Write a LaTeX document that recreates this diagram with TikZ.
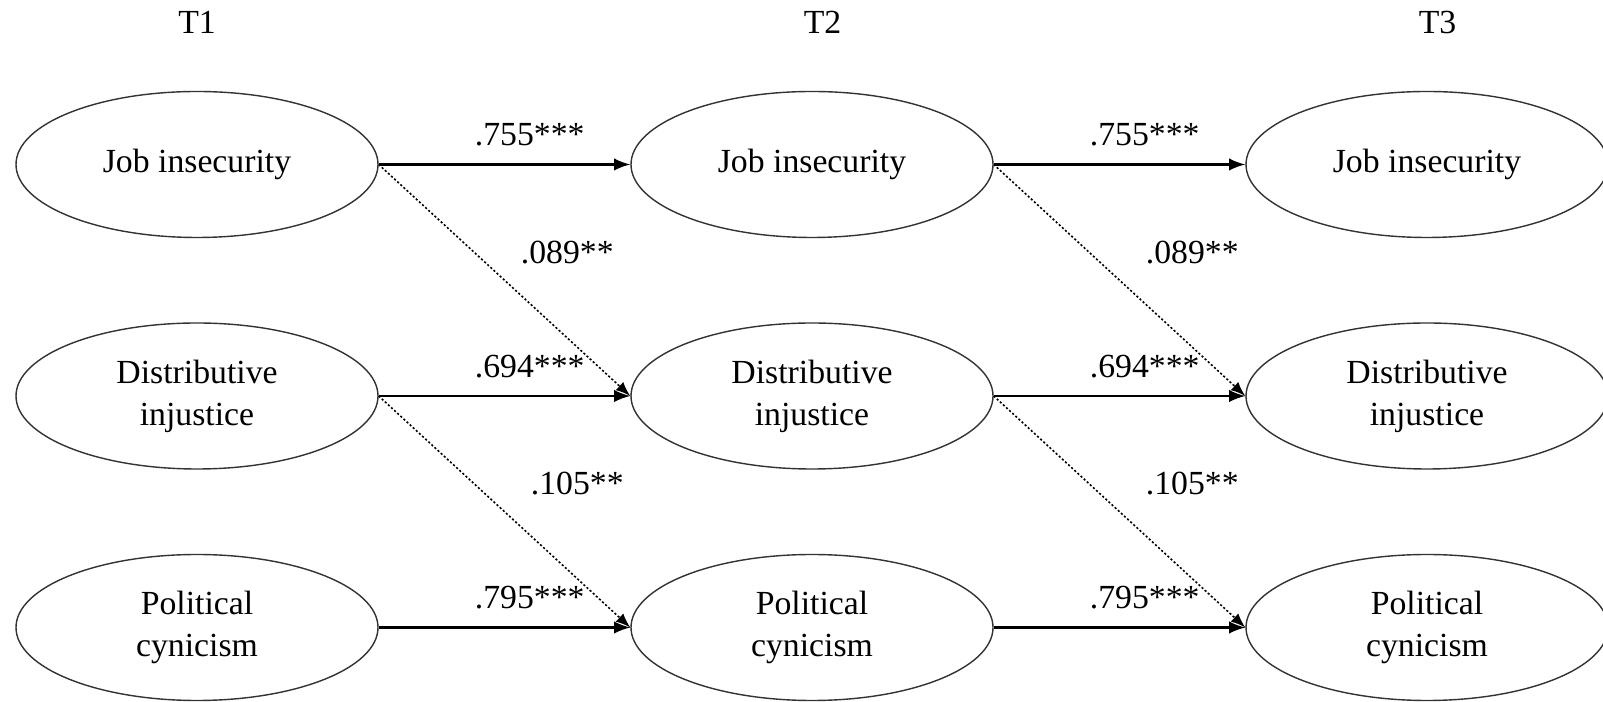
\documentclass[tikz,border=0pt]{standalone}
\usepackage{fontspec}
\setmainfont{Liberation Serif}
\usetikzlibrary{shapes.geometric, arrows, positioning}
\tikzstyle{latent} = [ellipse, draw=black!80, line width=0.4pt, minimum width=3.62cm, minimum height=1.46cm, align=center, inner sep=1pt]
\tikzstyle{stab} = [semithick,->,>=latex]
\tikzstyle{lagged} = [line width=0.45pt, dash pattern=on 0.6pt off 0.6pt,->,>=latex]
\tikzstyle{coef} = [above=1.5pt, pos=0.6]
\tikzstyle{xcoef} = [pos=0.38, xshift=1.03cm]

\begin{document}
\begin{tikzpicture}[node distance=2.315cm, font=\fontsize{9.6}{11.9}\selectfont]
        \useasboundingbox (0,0) rectangle (16.03,7.02);
        % T1
        \node (ji1) [latent] at (1.97,5.375) {Job insecurity};
        \node (di1) [latent, below of=ji1] {Distributive\\injustice};
        \node (pc1) [latent, below of=di1] {Political\\cynicism};
        % T2
        \node (ji2) [latent, right of=ji1, node distance=6.15cm] {Job insecurity};
        \node (di2) [latent, below of=ji2] {Distributive\\injustice};
        \node (pc2) [latent, below of=di2] {Political\\cynicism};
        % T3
        \node (ji3) [latent, right of=ji2, node distance=6.15cm] {Job insecurity};
        \node (di3) [latent, below of=ji3] {Distributive\\injustice};
        \node (pc3) [latent, below of=di3] {Political\\cynicism};
        % waves
        \node (t1) [above of=ji1, node distance=1.42cm] {T1};
        \node (t2) [above of=ji2, node distance=1.42cm, xshift=3pt] {T2};
        \node (t3) [above of=ji3, node distance=1.42cm, xshift=3pt] {T3};
        % stability paths
        \draw [stab] (ji1) -- node[coef] {.755***} (ji2);
        \draw [stab] (di1) -- node[coef] {.694***} (di2);
        \draw [stab] (pc1) -- node[coef] {.795***} (pc2);
        \draw [stab] (ji2) -- node[coef] {.755***} (ji3);
        \draw [stab] (di2) -- node[coef] {.694***} (di3);
        \draw [stab] (pc2) -- node[coef] {.795***} (pc3);
        % cross-lagged paths
        \draw [lagged] (ji1.east) -- node[xcoef, xshift=-0.1cm] {.089**} (di2.west);
        \draw [lagged] (di1.east) -- node[xcoef] {.105**} (pc2.west);
        \draw [lagged] (ji2.east) -- node[xcoef] {.089**} (di3.west);
        \draw [lagged] (di2.east) -- node[xcoef] {.105**} (pc3.west);
    \end{tikzpicture}
\end{document}
